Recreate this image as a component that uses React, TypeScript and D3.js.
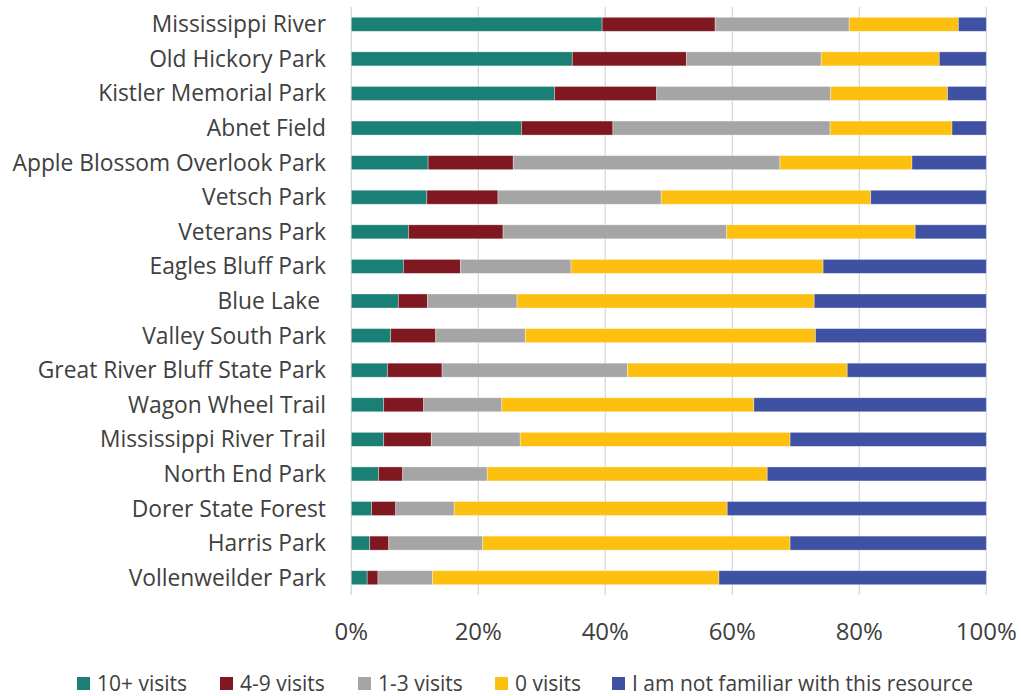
import React from "react";
import * as d3 from "d3";

const categories = [
  "Mississippi River",
  "Old Hickory Park",
  "Kistler Memorial Park",
  "Abnet Field",
  "Apple Blossom Overlook Park",
  "Vetsch Park",
  "Veterans Park",
  "Eagles Bluff Park",
  "Blue Lake ",
  "Valley South Park",
  "Great River Bluff State Park",
  "Wagon Wheel Trail",
  "Mississippi River Trail",
  "North End Park",
  "Dorer State Forest",
  "Harris Park",
  "Vollenweilder Park",
];

const seriesNames = [
  "10+ visits",
  "4-9 visits",
  "1-3 visits",
  "0 visits",
  "I am not familiar with this resource",
];

const visits10plus = [39.5, 34.8, 32.0, 26.8, 12.1, 11.9, 9.0, 8.2, 7.4, 6.2, 5.7, 5.1, 5.1, 4.3, 3.2, 2.9, 2.5];
const visits4to9 = [17.8, 18.0, 16.1, 14.4, 13.4, 11.2, 14.9, 9.0, 4.6, 7.1, 8.6, 6.3, 7.5, 3.8, 3.8, 3.0, 1.7];
const visits1to3 = [21.1, 21.2, 27.4, 34.2, 42.0, 25.7, 35.2, 17.4, 14.1, 14.1, 29.2, 12.3, 14.0, 13.3, 9.2, 14.8, 8.6];
const visits0 = [17.2, 18.6, 18.4, 19.2, 20.8, 33.0, 29.7, 39.7, 46.8, 45.7, 34.6, 39.7, 42.5, 44.1, 43.0, 48.4, 45.1];
const notFamiliar = [4.4, 7.4, 6.1, 5.4, 11.7, 18.2, 11.2, 25.7, 27.1, 26.9, 21.9, 36.6, 30.9, 34.5, 40.8, 30.9, 42.1];

const xTicks = [0, 0.2, 0.4, 0.6, 0.8, 1.0];

const colors = ["#1a7f74", "#7f1820", "#a5a5a5", "#fdc010", "#3f51a3"];

const legendX = [77, 220, 358, 495, 612];

const FONT = "'Open Sans', 'DejaVu Sans', sans-serif";

export default function App() {
  const width = 1021;
  const height = 696;
  const left = 351.3;
  const right = 986.3;
  const top = 7;
  const bottom = 595;

  const series = [visits10plus, visits4to9, visits1to3, visits0, notFamiliar];

  const rows = categories.map((c, i) => {
    const vals = series.map((s) => s[i]);
    const total = d3.sum(vals);
    const obj: Record<string, any> = { category: c };
    seriesNames.forEach((n, k) => (obj[n] = vals[k] / total));
    return obj;
  });

  const stacked = d3.stack<any>().keys(seriesNames)(rows);

  const x = d3.scaleLinear().domain([0, 1]).range([left, right]);
  const y = d3
    .scaleBand<string>()
    .domain(categories)
    .range([top, bottom])
    .paddingInner(0.595)
    .paddingOuter(0.2975);

  return (
    <svg
      width={width}
      height={height}
      style={{ display: "block", position: "absolute", left: 0, top: 0, background: "#fff" }}
    >
      <g>
        {xTicks.map((t) => (
          <line
            key={t}
            x1={x(t)}
            x2={x(t)}
            y1={top}
            y2={bottom}
            stroke="#d9d9d9"
            strokeWidth={1.3}
          />
        ))}
      </g>
      <g>
        {stacked.map((layer, k) => (
          <g key={layer.key} fill={colors[k]}>
            {layer.map((d, i) => (
              <rect
                key={i}
                x={x(d[0])}
                y={y(categories[i])!}
                width={Math.max(0, x(d[1]) - x(d[0]))}
                height={y.bandwidth()}
                stroke="#ffffff"
                strokeOpacity={0.45}
                strokeWidth={0.75}
              />
            ))}
          </g>
        ))}
      </g>
      <g fontFamily={FONT} fontSize={22.8} fill="#404040">
        {categories.map((c) => (
          <text
            key={c}
            x={326}
            y={y(c)! + y.bandwidth() / 2}
            dy="0.35em"
            textAnchor="end"
            style={{ whiteSpace: "pre" }}
          >
            {c}
          </text>
        ))}
      </g>
      <g fontFamily={FONT} fontSize={24} fill="#404040">
        {xTicks.map((t) => (
          <text key={t} x={x(t)} y={632} dy="0.35em" textAnchor="middle">
            {d3.format(".0%")(t)}
          </text>
        ))}
      </g>
      <g fontFamily={FONT} fontSize={21} fill="#404040">
        {seriesNames.map((n, k) => (
          <g key={n}>
            <rect x={legendX[k]} y={677} width={13} height={13} fill={colors[k]} />
            <text x={legendX[k] + 20} y={684} dy="0.35em">
              {n}
            </text>
          </g>
        ))}
      </g>
    </svg>
  );
}
